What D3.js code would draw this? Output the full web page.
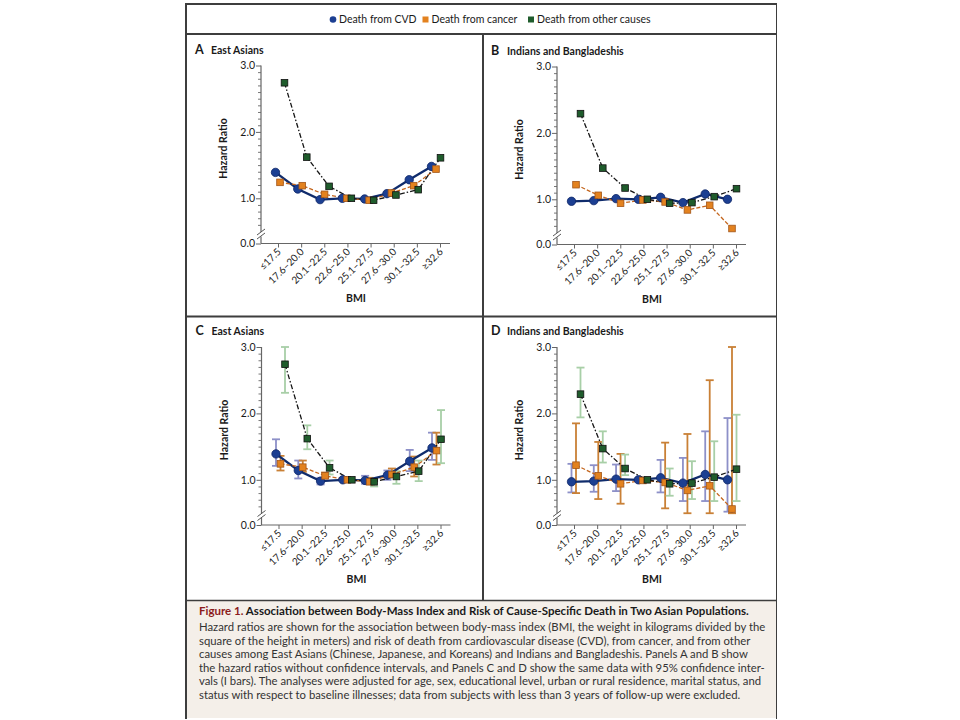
<html>
<head>
  <title></title>
  <script src="https://cdn.jsdelivr.net/npm/d3@7/dist/d3.min.js"></script>
<style type="text/css">
body { margin: 0; background: #fff; }
svg text { font-family: Lato, "Open Sans", sans-serif; fill: #1a1a1a; }
</style>
</head>
<body>
<script type="text/javascript">

// BMI groups (x categories)
var categories = ['\u226417.5', '17.6\u201320.0', '20.1\u201322.5', '22.6\u201325.0',
                  '25.1\u201327.5', '27.6\u201330.0', '30.1\u201332.5', '\u226532.6'];
var yTicks = [0, 1, 2, 3];
var yTickLabels = ['0.0', '1.0', '2.0', '3.0'];

// East Asians, hazard ratios
var eastCvd    = [1.39, 1.14, 0.98, 1.00, 0.99, 1.07, 1.28, 1.48];
var eastCancer = [1.24, 1.19, 1.06, 1.00, 0.97, 1.08, 1.19, 1.44];
var eastOther  = [2.74, 1.62, 1.18, 1.00, 0.97, 1.05, 1.13, 1.61];
// East Asians, 95% CI (reference group has none)
var eastCvdLo    = [1.21, 1.02, 0.93, null, 0.94, 1.00, 1.13, 1.30];
var eastCvdHi    = [1.61, 1.29, 1.03, null, 1.06, 1.14, 1.45, 1.71];
var eastCancerLo = [1.14, 1.12, 1.03, null, 0.95, 1.04, 1.05, 1.23];
var eastCancerHi = [1.36, 1.29, 1.11, null, 1.03, 1.17, 1.35, 1.71];
var eastOtherLo  = [2.31, 1.46, 1.08, null, 0.90, 0.94, 0.98, 1.25];
var eastOtherHi  = [3.00, 1.82, 1.29, null, 1.00, 1.13, 1.29, 2.05];

// Indians and Bangladeshis, hazard ratios
var indCvd    = [0.97, 0.98, 1.01, 1.00, 1.03, 0.95, 1.08, 1.00];
var indCancer = [1.22, 1.06, 0.94, 0.99, 0.96, 0.84, 0.91, 0.56];
var indOther  = [2.29, 1.47, 1.17, 1.00, 0.94, 0.95, 1.04, 1.16];
// Indians and Bangladeshis, 95% CI
var indCvdLo    = [0.81, 0.82, 0.83, null, 0.81, 0.68, 0.68, 0.52];
var indCvdHi    = [1.24, 1.22, 1.23, null, 1.30, 1.33, 1.73, 1.93];
var indCancerLo = [0.80, 0.71, 0.64, null, 0.57, 0.49, 0.49, 0.49];
var indCancerHi = [1.85, 1.57, 1.39, null, 1.56, 1.69, 2.50, 3.00];
var indOtherLo  = [1.94, 1.26, 1.07, null, 0.76, 0.71, 0.68, 0.68];
var indOtherHi  = [2.69, 1.73, 1.38, null, 1.17, 1.28, 1.58, 1.98];

var legendLabels = ['Death from CVD', 'Death from cancer', 'Death from other causes'];

var captionTitle = 'Association between Body-Mass Index and Risk of Cause-Specific Death in Two Asian Populations.';
var captionLines = [
  'Hazard ratios are shown for the association between body-mass index (BMI, the weight in kilograms divided by the',
  'square of the height in meters) and risk of death from cardiovascular disease (CVD), from cancer, and from other',
  'causes among East Asians (Chinese, Japanese, and Koreans) and Indians and Bangladeshis. Panels A and B show',
  'the hazard ratios without confidence intervals, and Panels C and D show the same data with 95% confidence inter-',
  'vals (I bars). The analyses were adjusted for age, sex, educational level, urban or rural residence, marital status, and',
  'status with respect to baseline illnesses; data from subjects with less than 3 years of follow-up were excluded.'
];

var series = [
  {name: 'cvd',    shape: 'circle', fill: '#1c3f92', stroke: '#0c2566', line: '#102c6c', dash: null,        lw: 2.3, dx: 0,   ci: '#8d90c8'},
  {name: 'cancer', shape: 'square', fill: '#e3821f', stroke: '#a2561a', line: '#c4661e', dash: '4,2',       lw: 1.3, dx: 4.5, ci: '#c98036'},
  {name: 'other',  shape: 'square', fill: '#1f5c2c', stroke: '#111',    line: '#151515', dash: '5,2,1.5,2', lw: 1.3, dx: 9,   ci: '#a8cfa7'}
];

var panels = [
  {letter: 'A', title: 'East Asians',              ax: 261,   y3: 65.5, vals: [eastCvd, eastCancer, eastOther], lo: null, hi: null},
  {letter: 'B', title: 'Indians and Bangladeshis', ax: 557,   y3: 66.5, vals: [indCvd, indCancer, indOther],    lo: null, hi: null},
  {letter: 'C', title: 'East Asians',              ax: 261.5, y3: 347,  vals: [eastCvd, eastCancer, eastOther],
   lo: [eastCvdLo, eastCancerLo, eastOtherLo], hi: [eastCvdHi, eastCancerHi, eastOtherHi]},
  {letter: 'D', title: 'Indians and Bangladeshis', ax: 557,   y3: 347,  vals: [indCvd, indCancer, indOther],
   lo: [indCvdLo, indCancerLo, indOtherLo], hi: [indCvdHi, indCancerHi, indOtherHi]}
];

var svg = d3.select('body').append('svg')
  .attr('width', 960)
  .attr('height', 720);

// caption background + frame
svg.append('rect').attr('x', 187).attr('y', 601).attr('width', 589).attr('height', 117).attr('fill', '#f4efe9');

var frame = svg.append('g').attr('stroke', '#3d3d3d').attr('fill', 'none');
frame.append('line').attr('x1', 185).attr('x2', 777).attr('y1', 4).attr('y2', 4).attr('stroke-width', 2);
frame.append('line').attr('x1', 186).attr('x2', 186).attr('y1', 3).attr('y2', 719).attr('stroke-width', 2);
frame.append('line').attr('x1', 776.5).attr('x2', 776.5).attr('y1', 3).attr('y2', 719).attr('stroke-width', 1);
frame.append('line').attr('x1', 186).attr('x2', 777).attr('y1', 34).attr('y2', 34).attr('stroke-width', 2);
frame.append('line').attr('x1', 186).attr('x2', 777).attr('y1', 316.5).attr('y2', 316.5).attr('stroke-width', 2);
frame.append('line').attr('x1', 186).attr('x2', 777).attr('y1', 600.5).attr('y2', 600.5).attr('stroke-width', 1.5);
frame.append('line').attr('x1', 483).attr('x2', 483).attr('y1', 34).attr('y2', 600.5).attr('stroke-width', 2);

// legend
var legendX = [333, 425.5, 531];
var lg = svg.append('g');
series.forEach(function(s, i) {
  if (s.shape == 'circle') {
    lg.append('circle').attr('cx', legendX[i]).attr('cy', 19.5).attr('r', 3.3).attr('fill', s.fill);
  } else {
    lg.append('rect').attr('x', legendX[i] - 3).attr('y', 16.5).attr('width', 6).attr('height', 6).attr('fill', s.fill);
  }
  lg.append('text').attr('x', legendX[i] + 6).attr('y', 23)
    .attr('font-size', 10.5).text(legendLabels[i]);
});

panels.forEach(function(p) {
  var g = svg.append('g');
  var y = d3.scaleLinear().domain([0, 0.5, 3]).range([p.y3 + 178, p.y3 + 166, p.y3]);
  var xt = d3.scalePoint().domain(categories).range([p.ax + 17, p.ax + 179]);
  var xm = d3.scalePoint().domain(categories).range([p.ax + 14.5, p.ax + 170.5]);
  var y0 = y(0);

  // panel title
  g.append('text').attr('x', p.ax - 66).attr('y', p.y3 - 12)
    .attr('font-size', 12.5).attr('font-weight', 'bold').text(p.letter);
  g.append('text').attr('x', p.ax - 50).attr('y', p.y3 - 12)
    .attr('font-size', 10.5).attr('font-weight', 'bold').text(p.title);

  // y axis: minor ticks
  var minor = d3.range(6, 30).map(function(d) { return d / 10; }).filter(function(d) { return d % 1 != 0; });
  g.append('g').attr('transform', 'translate(' + p.ax + ',0)')
    .call(d3.axisLeft(y).tickValues(minor).tickSize(3).tickFormat(''))
    .call(function(a) { a.select('.domain').remove(); a.selectAll('line').attr('stroke', '#777'); });
  // y axis: major ticks
  g.append('g').attr('transform', 'translate(' + p.ax + ',0)')
    .call(d3.axisLeft(y).tickValues(yTicks).tickSize(5).tickPadding(1)
      .tickFormat(function(d, i) { return yTickLabels[i]; }))
    .call(function(a) {
      a.select('.domain').remove();
      a.selectAll('line').attr('stroke', '#666');
      a.selectAll('text').attr('font-size', 10.5).attr('fill', '#1a1a1a')
        .style('font-family', 'Lato, sans-serif');
    });
  // y axis line with break
  g.append('line').attr('x1', p.ax).attr('x2', p.ax).attr('y1', y(3)).attr('y2', y(0.5) + 0.5)
    .attr('stroke', '#666').attr('stroke-width', 1.2);
  g.append('line').attr('x1', p.ax).attr('x2', p.ax).attr('y1', y(0.5) + 5).attr('y2', y0)
    .attr('stroke', '#666').attr('stroke-width', 1.2);
  [0.5, 4.5].forEach(function(off) {
    g.append('line')
      .attr('x1', p.ax - 4).attr('y1', y(0.5) + off + 3)
      .attr('x2', p.ax + 4).attr('y2', y(0.5) + off - 3)
      .attr('stroke', '#555').attr('stroke-width', 1);
  });

  // x axis
  g.append('g').attr('transform', 'translate(0,' + y0 + ')')
    .call(d3.axisBottom(xt).tickSize(4).tickSizeOuter(0))
    .call(function(a) {
      a.select('.domain').attr('d', 'M' + p.ax + ',0H' + (p.ax + 189)).attr('stroke', '#666').attr('stroke-width', 1.2);
      a.selectAll('line').attr('stroke', '#666');
      a.selectAll('text').attr('font-size', 10).attr('fill', '#1a1a1a')
        .style('font-family', 'Lato, sans-serif')
        .attr('text-anchor', 'end').attr('dy', null).attr('y', 0)
        .attr('transform', 'translate(3,9) rotate(-45)');
    });

  // axis titles
  g.append('text')
    .attr('transform', 'translate(' + (p.ax - 34) + ',' + (p.y3 + 83) + ') rotate(-90)')
    .attr('text-anchor', 'middle').attr('font-size', 10.5).attr('font-weight', 'bold').text('Hazard Ratio');
  g.append('text').attr('x', p.ax + 95).attr('y', p.y3 + 236)
    .attr('text-anchor', 'middle').attr('font-size', 10.5).attr('font-weight', 'bold').text('BMI');

  // confidence intervals
  if (p.lo) {
    series.forEach(function(s, si) {
      var idx = d3.range(categories.length).filter(function(i) { return p.lo[si][i] != null; });
      var eg = g.append('g').attr('stroke', s.ci).attr('stroke-width', 1.8);
      idx.forEach(function(i) {
        var cx = xm(categories[i]) + s.dx;
        var lo = y(p.lo[si][i]), hi = y(p.hi[si][i]);
        eg.append('line').attr('x1', cx).attr('x2', cx).attr('y1', lo).attr('y2', hi);
        eg.append('line').attr('x1', cx - 4).attr('x2', cx + 4).attr('y1', lo).attr('y2', lo);
        eg.append('line').attr('x1', cx - 4).attr('x2', cx + 4).attr('y1', hi).attr('y2', hi);
      });
    });
  }

  // lines + markers
  series.forEach(function(s, si) {
    var line = d3.line()
      .x(function(d, i) { return xm(categories[i]) + s.dx; })
      .y(function(d) { return y(d); });
    g.append('path').datum(p.vals[si])
      .attr('d', line).attr('fill', 'none')
      .attr('stroke', s.line).attr('stroke-width', s.lw)
      .attr('stroke-dasharray', s.dash);
  });
  series.forEach(function(s, si) {
    var mg = g.append('g');
    if (s.shape == 'circle') {
      mg.selectAll('circle').data(p.vals[si]).enter().append('circle')
        .attr('cx', function(d, i) { return xm(categories[i]) + s.dx; })
        .attr('cy', function(d) { return y(d); })
        .attr('r', 4.2).attr('fill', s.fill).attr('stroke', s.stroke).attr('stroke-width', 0.8);
    } else {
      mg.selectAll('rect').data(p.vals[si]).enter().append('rect')
        .attr('x', function(d, i) { return xm(categories[i]) + s.dx - 3.3; })
        .attr('y', function(d) { return y(d) - 3.3; })
        .attr('width', 6.6).attr('height', 6.6)
        .attr('fill', s.fill).attr('stroke', s.stroke).attr('stroke-width', 0.8);
    }
  });
});

// caption
var cap = svg.append('text').attr('x', 199).attr('y', 614.5).attr('font-size', 11.5).attr('font-weight', 'bold');
cap.append('tspan').style('fill', '#8c1c1c').text('Figure 1. ');
cap.append('tspan').text(captionTitle);

svg.selectAll('.capline')
  .data(captionLines).enter()
  .append('text').attr('class', 'capline')
  .attr('x', 199)
  .attr('y', function(d, i) { return 631 + i * 13.6; })
  .attr('font-size', 11.3)
  .style('fill', '#333')
  .text(function(d) { return d; });

</script>

</body>
</html>
